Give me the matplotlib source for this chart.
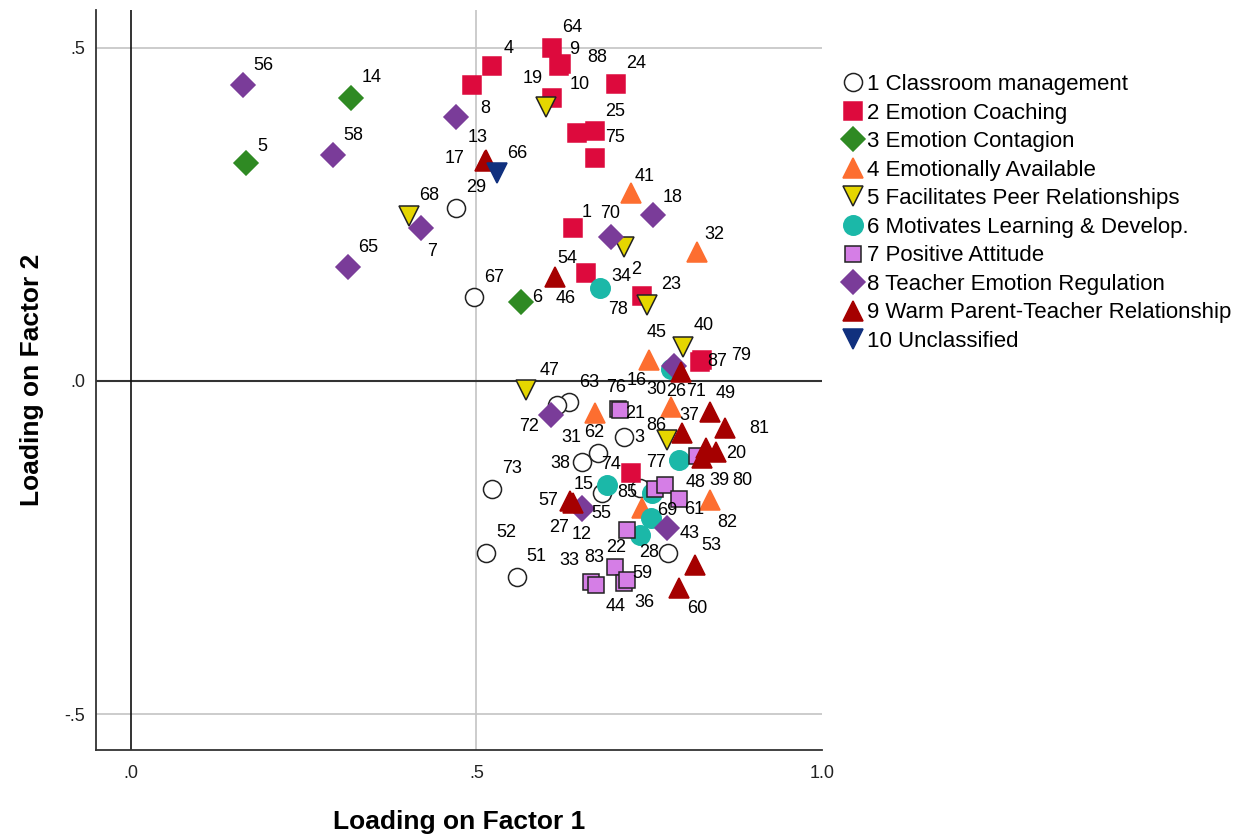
import matplotlib
matplotlib.use('Agg')
import matplotlib.pyplot as plt
from matplotlib.lines import Line2D

plt.rcParams['font.family'] = ['Liberation Sans', 'DejaVu Sans']

group_names = ['1 Classroom management', '2 Emotion Coaching', '3 Emotion Contagion',
               '4 Emotionally Available', '5 Facilitates Peer Relationships',
               '6 Motivates Learning & Develop.', '7 Positive Attitude',
               '8 Teacher Emotion Regulation', '9 Warm Parent-Teacher Relationship',
               '10 Unclassified']

# (item no., loading on factor 1, loading on factor 2), None = no item number shown
classroom = [(29, .471, .260), (67, .497, .126), (63, .634, -.032), (11, .616, -.036),
             (31, .676, -.108), (38, .653, -.122), (3, .714, -.084), (73, .522, -.162),
             (52, .514, -.258), (51, .558, -.294), (35, .682, -.168), (85, .736, -.161),
             (28, .777, -.258)]
coaching = [(64, .610, .500), (9, .620, .473), (88, .623, .476), (4, .523, .473),
            (42, .493, .444), (24, .702, .446), (10, .610, .425), (50, .645, .372),
            (25, .672, .375), (75, .671, .335), (1, .640, .230), (46, .659, .162),
            (78, .740, .128), (87, .824, .029), (79, .827, .032), (74, .724, -.138)]
contagion = [(14, .319, .425), (5, .166, .327), (6, .565, .119)]
available = [(41, .723, .282), (32, .819, .194), (45, .749, .032), (26, .782, -.039),
             (62, .671, -.048), (82, .838, -.179), (None, .740, -.191)]
peer = [(19, .600, .411), (68, .403, .248), (2, .714, .201), (23, .747, .114),
        (40, .799, .051), (47, .572, -.014), (86, .775, -.089)]
motivates = [(34, .679, .140), (16, .782, .018), (77, .793, -.119), (15, .689, -.156),
             (None, .754, -.168), (69, .753, -.206), (None, .736, -.231)]
positive = [(76, .705, -.042), (21, .707, -.044), (84, .819, -.113), (None, .759, -.162),
            (48, .773, -.156), (61, .793, -.177), (22, .718, -.224), (33, .666, -.302),
            (44, .673, -.306), (83, .701, -.279), (36, .714, -.303), (59, .718, -.299)]
regulation = [(56, .162, .444), (58, .293, .339), (65, .314, .171), (7, .419, .230),
              (8, .471, .396), (18, .756, .249), (70, .695, .216), (72, .608, -.051),
              (30, .786, .023), (12, .653, -.192), (55, .652, -.191), (43, .775, -.221)]
warm = [(13, .514, .332), (17, .512, .330), (54, .613, .156), (71, .796, .014),
        (49, .838, -.047), (81, .860, -.071), (37, .798, -.078), (80, .832, -.101),
        (20, .847, -.107), (39, .827, -.116), (27, .639, -.183), (57, .636, -.180),
        (53, .816, -.276), (60, .793, -.311)]
unclassified = [(66, .530, .312)]

groups = [classroom, coaching, contagion, available, peer, motivates, positive,
          regulation, warm, unclassified]

# item numbers SPSS did not print (overlap)
hidden = {11, 35, 42, 50, 84}

x_ticks = [0, 0.5, 1.0]
x_ticklabels = ['.0', '.5', '1.0']
y_ticks = [-0.5, 0, 0.5]
y_ticklabels = ['-.5', '.0', '.5']

# marker, size, face, edge
styles = [('o', 13, 'white', '#222222'),
          ('s', 12.5, '#DD0A3D', '#DD0A3D'),
          ('D', 12, '#2F8A23', '#2F8A23'),
          ('^', 14.5, '#FD6E30', '#FD6E30'),
          ('v', 14.5, '#E5D600', '#222222'),
          ('o', 14, '#1BB8A8', '#1BB8A8'),
          ('s', 12, '#D57EE6', '#222222'),
          ('D', 12, '#7A3C99', '#7A3C99'),
          ('^', 14.5, '#A50000', '#A50000'),
          ('v', 14.5, '#10307E', '#10307E')]

# where the item number sits relative to its marker, in pixels
label_shift = {9: (15, 16), 88: (36, 6), 4: (16, 17), 10: (27, 13), 1: (13, 15),
               46: (-21, -25), 78: (-24, -14), 87: (17, 0), 79: (39, 4), 74: (-20, 8),
               31: (-27, 15), 38: (-22, -1), 3: (15, -1), 85: (-12, -4), 28: (-19, 0),
               6: (16, 4), 45: (8, 27), 26: (5, 15), 62: (0, -20), 82: (17, -22),
               2: (12, -22), 23: (24, 21), 40: (21, 22), 47: (23, 20), 86: (-10, 15),
               34: (21, 11), 16: (-35, -11), 77: (-23, -2), 15: (-23, 0), 69: (16, 8),
               76: (-2, 21), 21: (16, -3), 48: (30, 2), 61: (15, -11), 22: (-11, -17),
               33: (-22, 22), 44: (20, -22), 83: (-21, 9), 36: (20, -20), 59: (15, 7),
               7: (12, -24), 8: (29, 9), 70: (-1, 24), 72: (-22, -12), 30: (-18, -24),
               55: (20, -5), 43: (23, -5), 12: (-1, -26), 13: (-9, 22), 17: (-30, 3),
               71: (15, -20), 49: (16, 19), 81: (34, 0), 37: (7, 17), 80: (36, -32),
               20: (20, -1), 39: (17, -22), 57: (-22, 0), 27: (-13, -25), 53: (16, 19),
               60: (18, -20), 19: (-13, 29), 18: (19, 18), 41: (14, 17), 32: (17, 17),
               54: (13, 19), 5: (17, 17)}

fig = plt.figure(figsize=(12.47, 8.36), dpi=100)
ax = fig.add_axes([96 / 1247, 1 - 750 / 836, 726 / 1247, 740 / 836])

# grid and reference lines
ax.axhline(0.5, color='#c4c4c4', lw=1.2, zorder=0)
ax.axhline(-0.5, color='#c4c4c4', lw=1.2, zorder=0)
ax.axvline(0.5, color='#c4c4c4', lw=1.2, zorder=0)
ax.axhline(0, color='#333333', lw=1.5, zorder=1)
ax.axvline(0, color='#111111', lw=1.2, zorder=1)

handles = []
for pts, (mk, ms, fc, ec) in zip(groups, styles):
    xs = [p[1] for p in pts]
    ys = [p[2] for p in pts]
    ax.plot(xs, ys, ls='none', marker=mk, ms=ms, mfc=fc, mec=ec, mew=1.1, zorder=3)
    handles.append(Line2D([], [], ls='none', marker=mk, ms=ms, mfc=fc, mec=ec, mew=1.1))
    for num, x, y in pts:
        if num is None or num in hidden:
            continue
        dx, dy = label_shift.get(num, (20, 20))
        ax.annotate(str(num), (x, y), xytext=(dx, dy), textcoords='offset pixels',
                    ha='center', va='center', fontsize=13, zorder=5)

ax.set_xlim(-0.0506, 1.0)
ax.set_ylim(-0.554, 0.557)
ax.set_xticks(x_ticks)
ax.set_xticklabels(x_ticklabels)
ax.set_yticks(y_ticks)
ax.set_yticklabels(y_ticklabels)
ax.tick_params(length=0, labelsize=13, colors='#222222')
ax.tick_params(axis='x', pad=11)
ax.tick_params(axis='y', pad=8)

for s in ['top', 'right']:
    ax.spines[s].set_visible(False)
for s in ['left', 'bottom']:
    ax.spines[s].set_color('#333333')
    ax.spines[s].set_linewidth(1.3)

ax.set_xlabel('Loading on Factor 1', fontsize=19, fontweight='bold')
ax.set_ylabel('Loading on Factor 2', fontsize=19, fontweight='bold')
ax.xaxis.label.set_va('center')
ax.yaxis.label.set_va('center')
ax.xaxis.set_label_coords(0.5, -72 / 740)
ax.yaxis.set_label_coords(-64 / 726, 0.5)

ax.legend(handles, group_names, loc='upper left', bbox_to_anchor=(844 / 1247, 1 - 74 / 836),
          bbox_transform=fig.transFigure, frameon=False, fontsize=16, handlelength=0.8,
          handletextpad=0.25, labelspacing=0.34, borderpad=0, borderaxespad=0)

fig.savefig('out.png', dpi=100)
